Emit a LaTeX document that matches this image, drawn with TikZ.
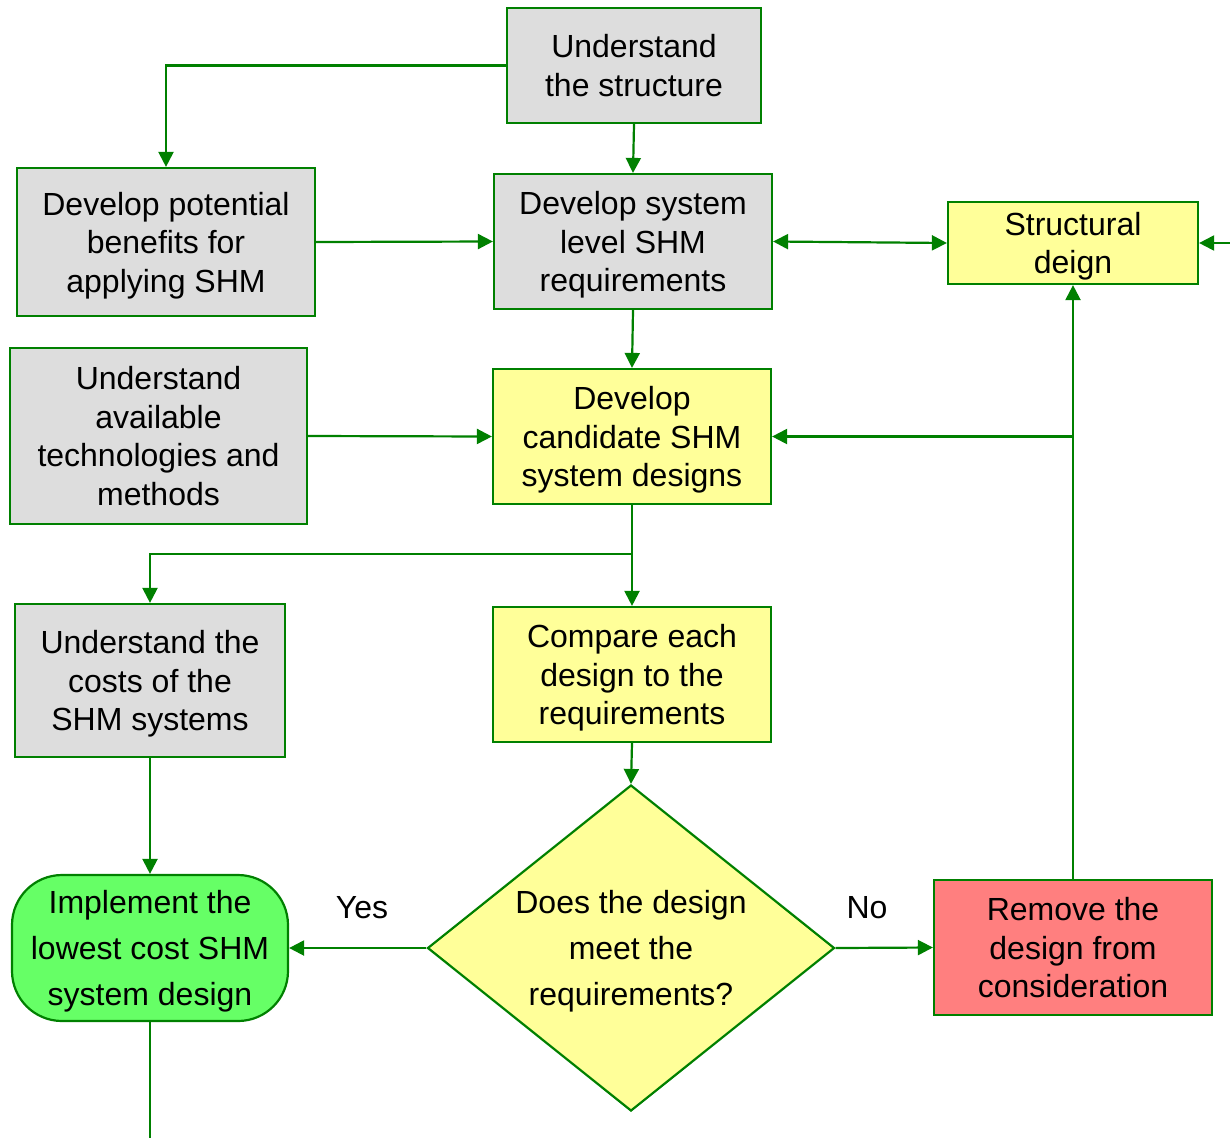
\documentclass[tikz,border=0pt]{standalone}
\usepackage{fontspec}
\setmainfont{Liberation Sans}
\usetikzlibrary{shapes.geometric, arrows.meta}
\definecolor{linegreen}{HTML}{008000}
\definecolor{boxgray}{HTML}{DDDDDD}
\definecolor{boxyellow}{HTML}{FFFF99}
\definecolor{boxgreen}{HTML}{66FF66}
\definecolor{boxred}{HTML}{FF7F7F}
\tikzstyle{line} = [line width=2.2pt, draw=linegreen]
\tikzstyle{arrow} = [line, -{Triangle[length=15pt,width=15pt]}]
\tikzstyle{twoway} = [line, {Triangle[length=15pt,width=15pt]}-{Triangle[length=15pt,width=15pt]}]
\tikzstyle{stepbox} = [rectangle, draw=linegreen, line width=2.2pt, align=center,
inner sep=0pt, text depth=0pt, font=\fontsize{32}{38.5}\selectfont]
\tikzstyle{given} = [stepbox, fill=boxgray]
\tikzstyle{task} = [stepbox, fill=boxyellow]
\tikzstyle{answer} = [font=\fontsize{32}{38}\selectfont]

\begin{document}
\begin{tikzpicture}[x=1pt, y=-1pt]
  \useasboundingbox (0,0) rectangle (1230,1138);
  \node [given, minimum width=254pt, minimum height=115pt] (struct) at (634,65.5)
    {Understand\\the structure};
  \node [given, minimum width=298pt, minimum height=148pt] (benefits) at (166,242)
    {Develop potential\\benefits for\\applying SHM};
  \node [given, minimum width=278pt, minimum height=135pt] (sysreq) at (633,241.5)
    {Develop system\\level SHM\\requirements};
  \node [task, minimum width=250pt, minimum height=82pt] (sdesign) at (1073,243)
    {Structural\\deign};
  \node [given, minimum width=297pt, minimum height=176pt] (techs) at (158.5,436)
    {Understand\\available\\technologies and\\methods};
  \node [task, minimum width=278pt, minimum height=135pt] (candidate) at (632,436.5)
    {Develop\\candidate SHM\\system designs};
  \node [given, minimum width=270pt, minimum height=153pt] (costs) at (150,680.5)
    {Understand the\\costs of the\\SHM systems};
  \node [task, minimum width=278pt, minimum height=135pt] (compare) at (632,674.5)
    {Compare each\\design to the\\requirements};
  \node [task, shape=diamond, aspect=1.25, minimum width=407pt, minimum height=326pt,
    font=\fontsize{32}{46}\selectfont] (meets) at (631,948)
    {Does the design\\meet the\\requirements?};
  \node [stepbox, fill=boxgreen, rounded corners=50pt, minimum width=276pt,
    minimum height=146pt, font=\fontsize{32}{46}\selectfont] (implement) at (150,948)
    {Implement the\\lowest cost SHM\\system design};
  \node [stepbox, fill=boxred, minimum width=278pt, minimum height=135pt] (remove) at (1073,947.5)
    {Remove the\\design from\\consideration};
  \node [answer] (yes) at (362,908) {Yes};
  \node [answer] (no) at (867,908) {No};
  \coordinate (rin) at (1230,243);
  \coordinate (fork) at (1073,436.5);
  \coordinate (split) at (632,554);
  \coordinate (out) at (150,1138);
  \draw [arrow] (struct.west) -| (benefits.north);
  \draw [arrow] (struct.south) -- (sysreq.north);
  \draw [arrow] (benefits.east) -- (sysreq.west);
  \draw [twoway] (sysreq.east) -- (sdesign.west);
  \draw [arrow] (rin) -- (sdesign.east);
  \draw [arrow] (sysreq.south) -- (candidate.north);
  \draw [arrow] (techs.east) -- (candidate.west);
  \draw [arrow] (remove.north) -- (sdesign.south);
  \draw [arrow] (fork) -- (candidate.east);
  \draw [arrow] (candidate.south) -- (compare.north);
  \draw [arrow] (split) -| (costs.north);
  \draw [arrow] (compare.south) -- (meets.north);
  \draw [arrow] (costs.south) -- (implement.north);
  \draw [arrow] (meets.west) -- (implement.east);
  \draw [arrow] (meets.east) -- (remove.west);
  \draw [line] (implement.south) -- (out);
\end{tikzpicture}
\end{document}
